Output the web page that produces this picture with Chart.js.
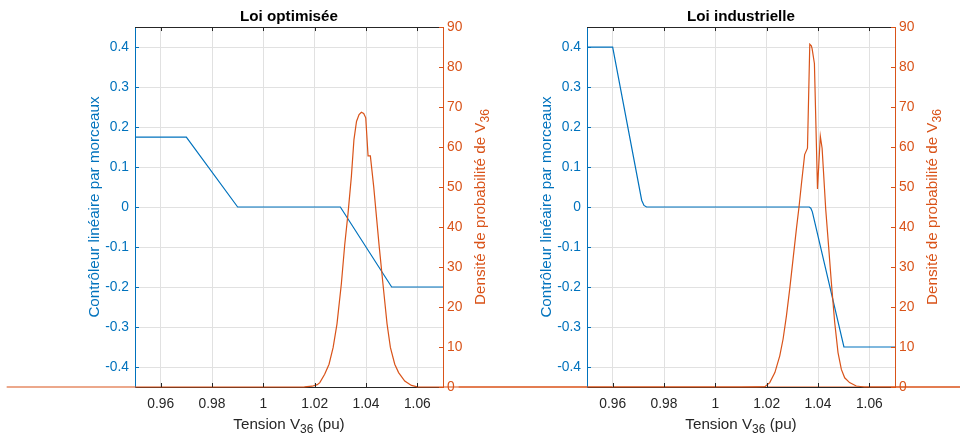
<!DOCTYPE html>
<html><head><meta charset="utf-8">
<script src="https://cdn.jsdelivr.net/npm/chart.js@4.4.1/dist/chart.umd.min.js"></script>
<style>
html,body{margin:0;padding:0;background:#fff;width:960px;height:434px;overflow:hidden;position:relative}
canvas{position:absolute;left:0;top:0}
</style></head><body>
<canvas id="c1" width="960" height="434"></canvas>
<canvas id="c2" width="960" height="434"></canvas>
<script>
// ---------- texts ----------
const TITLE_OPT = 'Loi optimisée';
const TITLE_IND = 'Loi industrielle';
const X_LABEL_MAIN = 'Tension V';
const X_LABEL_SUB = '36';
const X_LABEL_TAIL = ' (pu)';
const YL_LABEL = 'Contrôleur linéaire par morceaux';
const YR_LABEL_MAIN = 'Densité de probabilité de V';
const YR_LABEL_SUB = '36';

// ---------- ticks ----------
const X_MIN = 0.95, X_MAX = 1.07;
const X_TICKS = [0.96, 0.98, 1.00, 1.02, 1.04, 1.06];
const X_TICK_LABELS = ['0.96', '0.98', '1', '1.02', '1.04', '1.06'];
const Q_TICKS = [-0.4, -0.3, -0.2, -0.1, 0, 0.1, 0.2, 0.3, 0.4];
const Q_TICK_LABELS = ['-0.4', '-0.3', '-0.2', '-0.1', '0', '0.1', '0.2', '0.3', '0.4'];
const D_TICKS = [0, 10, 20, 30, 40, 50, 60, 70, 80, 90];
const D_TICK_LABELS = ['0', '10', '20', '30', '40', '50', '60', '70', '80', '90'];

// ---------- data: Loi optimisée ----------
const OPT_CTRL_V = [0.95, 0.97, 0.99, 1.03, 1.05, 1.07];
const OPT_CTRL_Q = [0.175, 0.175, 0, 0, -0.2, -0.2];
const OPT_DENS_V = [0.90, 1.010, 1.016, 1.019, 1.021, 1.022, 1.0239, 1.0256, 1.0272, 1.0287, 1.0304, 1.0317, 1.0330, 1.0343, 1.0353, 1.0363, 1.0373, 1.0382, 1.0391, 1.0399, 1.0408, 1.0417, 1.0430, 1.0451, 1.0466, 1.0482, 1.0495, 1.0512, 1.0527, 1.0551, 1.0577, 1.0600, 1.0650, 1.30];
const OPT_DENS_D = [0, 0, 0.05, 0.2, 0.6, 1.1, 3.2, 5.7, 9.9, 15.8, 25.8, 35.5, 43.4, 52.6, 61.8, 66.4, 68.1, 68.7, 68.4, 67.3, 57.8, 57.8, 50.1, 35.4, 25.8, 15.8, 9.9, 5.7, 3.6, 1.5, 0.4, 0.05, 0, 0];

// ---------- data: Loi industrielle ----------
const IND_CTRL_V = [0.95, 0.96, 0.9713, 0.9722, 0.9732, 1.0366, 1.0372, 1.0378, 1.0501, 1.07];
const IND_CTRL_Q = [0.4, 0.4, 0.017, 0.004, 0, 0, -0.003, -0.012, -0.35, -0.35];
const IND_DENS_V = [0.90, 1.010, 1.016, 1.0193, 1.0212, 1.0232, 1.0251, 1.0264, 1.0277, 1.0290, 1.0303, 1.0316, 1.0326, 1.0335, 1.0348, 1.0359, 1.0368, 1.0374, 1.0377, 1.0386, 1.0398, 1.0409, 1.0416, 1.0430, 1.0439, 1.0452, 1.0465, 1.0478, 1.0491, 1.0504, 1.0523, 1.0549, 1.0580, 1.0650, 1.20];
const IND_DENS_D = [0, 0, 0.05, 0.1, 1.1, 3.6, 7.8, 12, 17.8, 24.6, 32.1, 39.6, 45, 50.5, 58.1, 59.7, 85.7, 85.3, 84.6, 80.9, 49.5, 62.7, 59.7, 44.5, 37.1, 26.2, 16.2, 8.6, 4.4, 2.3, 1.1, 0.25, 0, 0, 0];

// ---------- style ----------
const BLUE = '#0072BD';
const ORANGE = '#D95319';
const AXIS = '#262626';
const GRID = '#e1e1e1';
const FONT = '"Liberation Sans", Arial, Helvetica, sans-serif';
const TICK_SIZE = 13.8;
const LABEL_SIZE = 15.2;
const SUB_SIZE = 12;
const SUB_DY = 4;
const LW = 1.2;
const TL = 4;

function drawRich(ctx, parts, x, y, rot, color) {
  ctx.save();
  ctx.translate(x, y);
  ctx.rotate(rot);
  ctx.fillStyle = color;
  ctx.textBaseline = 'alphabetic';
  ctx.textAlign = 'left';
  const fontOf = p => (p.sub ? SUB_SIZE : LABEL_SIZE) + 'px ' + FONT;
  let w = 0;
  parts.forEach(p => { ctx.font = fontOf(p); w += ctx.measureText(p.t).width; });
  let cx = -w / 2;
  parts.forEach(p => {
    ctx.font = fontOf(p);
    ctx.fillText(p.t, cx, p.sub ? SUB_DY : 0);
    cx += ctx.measureText(p.t).width;
  });
  ctx.restore();
}

const decor = {
  id: 'decor',
  afterDraw(chart) {
    const ctx = chart.ctx, a = chart.chartArea;
    const sx = chart.scales.x, yl = chart.scales.yL, yr = chart.scales.yR;
    ctx.save();
    ctx.lineWidth = 1;
    ctx.strokeStyle = AXIS;
    ctx.beginPath();
    ctx.moveTo(a.left, Math.round(a.top) + 0.5);
    ctx.lineTo(a.right, Math.round(a.top) + 0.5);
    ctx.stroke();
    ctx.beginPath();
    sx.ticks.forEach(t => {
      const p = Math.round(sx.getPixelForValue(t.value)) + 0.5;
      ctx.moveTo(p, a.bottom); ctx.lineTo(p, a.bottom - TL);
      ctx.moveTo(p, a.top); ctx.lineTo(p, a.top + TL);
    });
    ctx.stroke();
    ctx.strokeStyle = BLUE;
    ctx.beginPath();
    yl.ticks.forEach(t => {
      const p = Math.round(yl.getPixelForValue(t.value)) + 0.5;
      ctx.moveTo(a.left, p); ctx.lineTo(a.left + TL, p);
    });
    ctx.stroke();
    ctx.strokeStyle = ORANGE;
    ctx.beginPath();
    yr.ticks.forEach(t => {
      const p = Math.round(yr.getPixelForValue(t.value)) + 0.5;
      ctx.moveTo(a.right, p); ctx.lineTo(a.right - TL, p);
    });
    ctx.stroke();
    ctx.restore();
    const cy = (a.top + a.bottom) / 2;
    drawRich(ctx, [{t: X_LABEL_MAIN}, {t: X_LABEL_SUB, sub: true}, {t: X_LABEL_TAIL}], (a.left + a.right) / 2, 429, 0, AXIS);
    drawRich(ctx, [{t: YL_LABEL}], a.left - 36, cy, -Math.PI / 2, BLUE);
    drawRich(ctx, [{t: YR_LABEL_MAIN}, {t: YR_LABEL_SUB, sub: true}], a.right + 42, cy, -Math.PI / 2, ORANGE);
  }
};

function setTicks(values) {
  return s => { s.ticks = values.map(v => ({value: v})); };
}

function makeChart(id, title, ctrlV, ctrlQ, densV, densD, pad, leftW, rightW) {
  return new Chart(document.getElementById(id), {
    type: 'line',
    data: {
      datasets: [
        {data: densV.map((v, i) => ({x: v, y: densD[i]})), yAxisID: 'yR', borderColor: ORANGE, borderWidth: LW, pointRadius: 0, tension: 0, fill: false, clip: false},
        {data: ctrlV.map((v, i) => ({x: v, y: ctrlQ[i]})), yAxisID: 'yL', borderColor: BLUE, borderWidth: LW, pointRadius: 0, tension: 0, fill: false}
      ]
    },
    options: {
      responsive: false,
      animation: false,
      devicePixelRatio: 1,
      layout: {padding: pad},
      plugins: {
        legend: {display: false},
        tooltip: {enabled: false},
        title: {display: true, text: title, color: '#000', font: {family: FONT, size: LABEL_SIZE, weight: 'bold'}, padding: {top: 7.3, bottom: 1.5}}
      },
      scales: {
        x: {
          type: 'linear', position: 'bottom', bounds: 'data',
          afterDataLimits: s => { s.min = X_MIN; s.max = X_MAX; },
          afterBuildTicks: setTicks(X_TICKS),
          afterFit: s => { s.height = 47; },
          ticks: {callback: (v, i) => X_TICK_LABELS[i], color: AXIS, font: {family: FONT, size: TICK_SIZE}, padding: 9, maxRotation: 0, autoSkip: false},
          grid: {color: GRID, drawTicks: false, lineWidth: 1},
          border: {color: AXIS, width: 1}
        },
        yL: {
          type: 'linear', position: 'left', min: -0.45, max: 0.45,
          afterBuildTicks: setTicks(Q_TICKS),
          afterFit: s => { s.width = leftW; },
          ticks: {callback: (v, i) => Q_TICK_LABELS[i], color: BLUE, font: {family: FONT, size: TICK_SIZE}, padding: 6, autoSkip: false},
          grid: {color: GRID, drawTicks: false, lineWidth: 1},
          border: {color: BLUE, width: 1}
        },
        yR: {
          type: 'linear', position: 'right', min: 0, max: 90,
          afterBuildTicks: setTicks(D_TICKS),
          afterFit: s => { s.width = rightW; },
          ticks: {callback: (v, i) => D_TICK_LABELS[i], color: ORANGE, font: {family: FONT, size: TICK_SIZE}, padding: 4, autoSkip: false},
          grid: {display: false, drawTicks: false},
          border: {color: ORANGE, width: 1}
        }
      }
    },
    plugins: [decor]
  });
}

makeChart('c1', TITLE_OPT, OPT_CTRL_V, OPT_CTRL_Q, OPT_DENS_V, OPT_DENS_D, {left: 0, right: 382, top: 0, bottom: 0}, 135, 135);
makeChart('c2', TITLE_IND, IND_CTRL_V, IND_CTRL_Q, IND_DENS_V, IND_DENS_D, {left: 522, right: 0, top: 0, bottom: 0}, 65, 65);
</script>
</body></html>
